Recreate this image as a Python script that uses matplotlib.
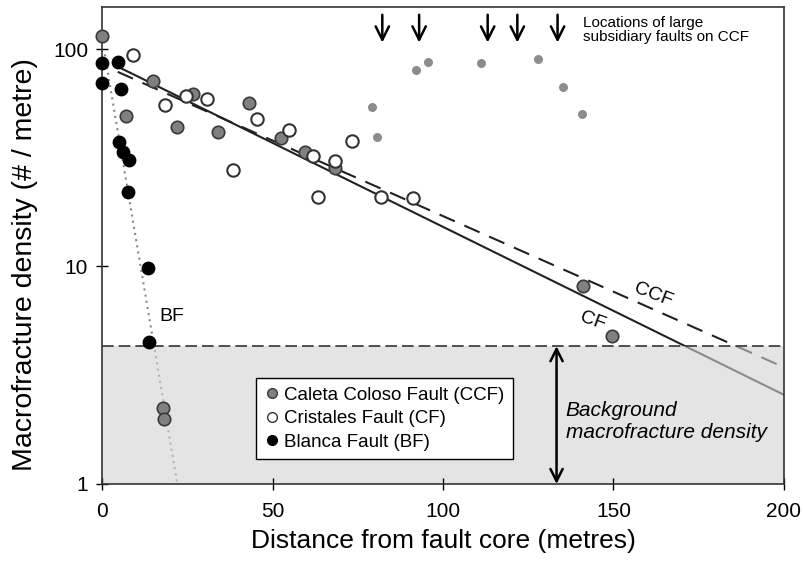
import matplotlib.pyplot as plt
from matplotlib.lines import Line2D

plt.rcParams['font.family'] = ['Liberation Sans', 'DejaVu Sans']

# Caleta Coloso Fault (grey)
ccf_x = [0, 6.9, 15, 21.9, 26.6, 33.9, 43.1, 52.5, 59.5, 68.3, 141.1, 149.5, 18.0, 18.3]
ccf_y = [115, 49.4, 71.5, 43.6, 62.1, 41.4, 56.6, 38.9, 33.6, 28.5, 8.13, 4.8, 2.23, 2.0]
# CCF points near the large subsidiary faults (small, light grey)
sub_x = [79.1, 80.5, 92.1, 95.5, 111, 128, 135.1, 140.7]
sub_y = [54.3, 39.3, 80, 86.9, 86.2, 90, 67.1, 50.1]
# Cristales Fault (open)
cf_x = [9.2, 18.5, 24.6, 30.7, 38.5, 45.5, 54.9, 62, 63.4, 68.3, 73.2, 81.8, 91.1]
cf_y = [93.8, 55.3, 60.8, 58.9, 27.8, 47.8, 42.4, 32.2, 20.9, 30.7, 37.8, 20.9, 20.6]
# Blanca Fault (black)
bf_x = [0, 0, 4.6, 5.6, 5, 6.1, 8.0, 7.7, 13.4, 13.8]
bf_y = [86, 70, 87.5, 65.3, 37.5, 33.7, 30.9, 21.9, 9.87, 4.48]

# fitted trend lines (end points)
cf_line_x, cf_line_y = [4.6, 200], [83, 2.57]
ccf_line_x, ccf_line_y = [4.6, 200], [78.5, 3.44]
bf_line_x, bf_line_y = [0.8, 22.5], [94.6, 0.916]

background = 4.3
fault_pos = [82.2, 93.0, 113.1, 121.8, 133.6]

fig = plt.figure(figsize=(8.04, 5.65), dpi=100)
ax = fig.add_axes([0.1269, 0.1434, 0.8482, 0.8442])
ax.set_yscale('log')
ax.set_xlim(0, 200)
ax.set_ylim(1, 156)

# trend lines
ax.plot(cf_line_x, cf_line_y, color='#222222', lw=1.5, zorder=1)
ax.plot(ccf_line_x, ccf_line_y, color='#222222', lw=1.5, ls=(0, (8, 5)), zorder=1)
ax.plot(bf_line_x, bf_line_y, color='#888888', lw=1.5, ls=(0, (1, 2)), zorder=1)

# background zone (semi-transparent, so lines below it look lighter)
ax.fill_between([0, 200], 1, background, color='#d2d2d2', alpha=0.6, lw=0, zorder=1.5)
ax.axhline(background, color='#333333', lw=1.2, ls=(0, (7, 3)), zorder=2)

# data points
ax.scatter(sub_x, sub_y, s=42, color='#8c8c8c', lw=0, zorder=3)
ax.scatter(ccf_x, ccf_y, s=80, facecolor='#808080', edgecolor='#3a3a3a', lw=1.2, zorder=4, clip_on=False)
ax.scatter(cf_x, cf_y, s=80, facecolor='white', edgecolor='#333333', lw=1.5, zorder=4, clip_on=False)
ax.scatter(bf_x, bf_y, s=80, facecolor='black', edgecolor='black', lw=1, zorder=5, clip_on=False)

# arrows marking large subsidiary faults
for xp in fault_pos:
    ax.annotate('', xy=(xp, 104), xytext=(xp, 148),
                arrowprops=dict(arrowstyle='->', lw=1.8, color='black', mutation_scale=24))
ax.text(141, 122, 'Locations of large\nsubsidiary faults on CCF', fontsize=11,
        va='center', ha='left', linespacing=1.0)

# background arrow and text
ax.annotate('', xy=(133.3, background), xytext=(133.3, 1),
            arrowprops=dict(arrowstyle='<->', lw=1.8, color='black', mutation_scale=22,
                            shrinkA=0, shrinkB=0))
ax.text(136, 2.4, 'Background\nmacrofracture density', fontsize=15, style='italic',
        va='top', ha='left', linespacing=1.2)

# line labels
ax.text(161.6, 7.4, 'CCF', fontsize=14, rotation=-21, ha='center', va='center')
ax.text(144, 5.6, 'CF', fontsize=14, rotation=-20, ha='center', va='center')
ax.text(20.5, 5.9, 'BF', fontsize=14, ha='center', va='center')

handles = [
    Line2D([], [], marker='o', ls='', ms=7, mfc='#808080', mec='#3a3a3a', label='Caleta Coloso Fault (CCF)'),
    Line2D([], [], marker='o', ls='', ms=7, mfc='white', mec='#333333', label='Cristales Fault (CF)'),
    Line2D([], [], marker='o', ls='', ms=7, mfc='black', mec='black', label='Blanca Fault (BF)'),
]
leg = ax.legend(handles=handles, loc='upper left', bbox_to_anchor=(0.226, 0.222),
                fontsize=13.5, frameon=True, fancybox=False, handletextpad=0.25,
                handlelength=0.8, borderpad=0.45, labelspacing=0.35, borderaxespad=0)
leg.get_frame().set_edgecolor('black')
leg.get_frame().set_linewidth(1.0)
leg.get_frame().set_alpha(1)

ax.set_yticks([1, 10, 100])
ax.set_yticklabels(['1', '10', '100'])
ax.minorticks_off()
ax.set_xticks([0, 50, 100, 150, 200])
ax.tick_params(direction='inout', length=8, width=1, labelsize=15)
ax.tick_params(axis='x', pad=9)
ax.tick_params(axis='y', pad=6)
for s in ax.spines.values():
    s.set_linewidth(1.2)
    s.set_color('#333333')

ax.set_xlabel('Distance from fault core (metres)', fontsize=19, labelpad=6)
ax.set_ylabel('Macrofracture density (# / metre)', fontsize=20.5)
ax.yaxis.set_label_coords(-0.094, 0.46)

plt.savefig('out.png', dpi=100)
